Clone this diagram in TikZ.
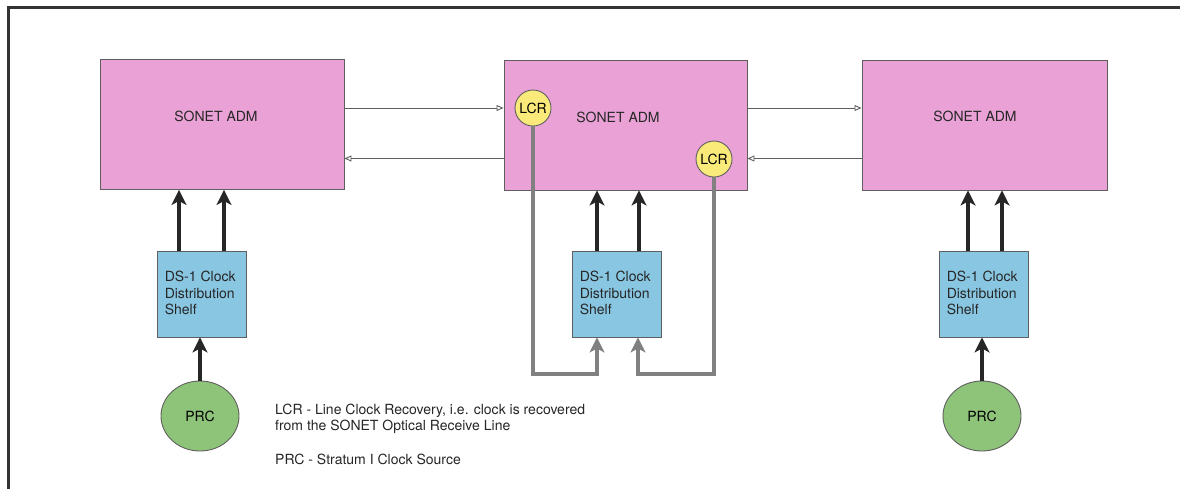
\documentclass[tikz,border=0pt]{standalone}
\usepackage{fontspec}
\setmainfont{TeX Gyre Heros}
\usetikzlibrary{arrows.meta,shapes.geometric}
\definecolor{admpink}{RGB}{234,162,214}
\definecolor{shelfblue}{RGB}{136,198,226}
\definecolor{prcgreen}{RGB}{142,196,122}
\definecolor{lcryellow}{RGB}{250,234,122}
\definecolor{edgegray}{RGB}{95,95,95}
\definecolor{linkgray}{RGB}{128,128,128}
\tikzset{
  admbox/.style={rectangle,draw=edgegray,line width=0.9pt,fill=admpink,minimum width=244pt,minimum height=130pt,inner sep=0pt},
  shelfbox/.style={rectangle,draw=edgegray,line width=0.9pt,fill=shelfblue,minimum width=89pt,minimum height=86pt,inner sep=0pt},
  prcnode/.style={ellipse,draw=edgegray,line width=0.9pt,fill=prcgreen,minimum width=78pt,minimum height=70pt,inner sep=0pt,font=\fontsize{14}{17}\selectfont},
  lcrnode/.style={circle,draw=edgegray,line width=0.9pt,fill=lcryellow,minimum size=36pt,inner sep=0pt,font=\fontsize{14}{17}\selectfont},
  lbl/.style={inner sep=0pt,font=\fontsize{14}{17}\selectfont,text=black!85},
  shelftext/.style={inner sep=0pt,align=left,anchor=west,font=\fontsize{14}{16.7}\selectfont,text=black!85},
  clockarrow/.style={line width=4.5pt,draw=black!85,-{Stealth[length=15pt,width=15pt,inset=4pt]},shorten <=0pt},
  lcrarrow/.style={line width=3.8pt,draw=linkgray,line join=miter,-{Stealth[length=15pt,width=15pt,inset=4pt]}},
  linkarrow/.style={line width=1pt,draw=edgegray,-{Triangle[open,length=7pt,width=6pt,line width=0.9pt]}},
  legend/.style={inner sep=0pt,anchor=base west,font=\fontsize{14}{17}\selectfont,text=black!85}
}
\begin{document}
\begin{tikzpicture}[x=1pt,y=-1pt]
\useasboundingbox (0,0) rectangle (1180,488);
\fill[white] (0,0) rectangle (1180,488);
% frame (cropped)
\draw[line width=3pt,draw=black!80] (8,500) -- (8,7) -- (1190,7);

% ADMs
\node[admbox] (admL) at (222,124.5) {};
\node[admbox,minimum width=243pt] (admM) at (625.5,125) {};
\node[admbox,minimum width=245pt] (admR) at (984.5,125) {};
\node[lbl] (tL) at (216,116) {SONET ADM};
\node[lbl] (tM) at (618,117) {SONET ADM};
\node[lbl] (tR) at (975,116) {SONET ADM};

% LCRs
\node[lcrnode] (lcrA) at (533,108) {LCR};
\node[lcrnode] (lcrB) at (714,159) {LCR};

% shelves
\node[shelfbox] (shL) at (201.5,294) {};
\node[shelfbox] (shM) at (616.5,294) {};
\node[shelfbox] (shR) at (983.5,294) {};
\node[shelftext] (stL) at ([xshift=8pt,yshift=1pt]shL.west) {DS-1 Clock\\Distribution\\Shelf};
\node[shelftext] (stM) at ([xshift=8pt,yshift=1pt]shM.west) {DS-1 Clock\\Distribution\\Shelf};
\node[shelftext] (stR) at ([xshift=8pt,yshift=1pt]shR.west) {DS-1 Clock\\Distribution\\Shelf};

% PRCs
\node[prcnode] (prcL) at (200,416) {PRC};
\node[prcnode] (prcR) at (982,416) {PRC};

% line links
\coordinate (yA) at (0,108);
\coordinate (yB) at (0,158.5);
\draw[linkarrow] (admL.east |- yA) -- (admM.west |- yA);
\draw[linkarrow] (admM.west |- yB) -- (admL.east |- yB);
\draw[linkarrow] (admM.east |- yA) -- (admR.west |- yA);
\draw[linkarrow] (admR.west |- yB) -- (admM.east |- yB);

% clock arrows shelf -> ADM
\draw[clockarrow] ([xshift=-22.5pt]shL.north) -- ([xshift=-22.5pt]shL.north |- admL.south);
\draw[clockarrow] ([xshift=22.5pt]shL.north) -- ([xshift=22.5pt]shL.north |- admL.south);
\draw[clockarrow] ([xshift=-19.5pt]shM.north) -- ([xshift=-19.5pt]shM.north |- admM.south);
\draw[clockarrow] ([xshift=22.5pt]shM.north) -- ([xshift=22.5pt]shM.north |- admM.south);
\draw[clockarrow] ([xshift=-15.5pt]shR.north) -- ([xshift=-15.5pt]shR.north |- admR.south);
\draw[clockarrow] ([xshift=18.5pt]shR.north) -- ([xshift=18.5pt]shR.north |- admR.south);

% PRC -> shelf
\draw[clockarrow] (prcL.north) -- (prcL.north |- shL.south);
\draw[clockarrow] (prcR.north) -- (prcR.north |- shR.south);

% LCR -> shelf
\coordinate (gA) at (597,374);
\coordinate (gB) at (638,374);
\draw[lcrarrow] (lcrA.south) |- (gA) -- (gA |- shM.south);
\draw[lcrarrow] (lcrB.south) |- (gB) -- (gB |- shM.south);

% legend
\node[legend] (lg1) at (275,414) {LCR - Line Clock Recovery, i.e. clock is recovered};
\node[legend] (lg2) at (275,430.5) {from the SONET Optical Receive Line};
\node[legend] (lg3) at (275,464) {PRC - Stratum I Clock Source};
\end{tikzpicture}
\end{document}
